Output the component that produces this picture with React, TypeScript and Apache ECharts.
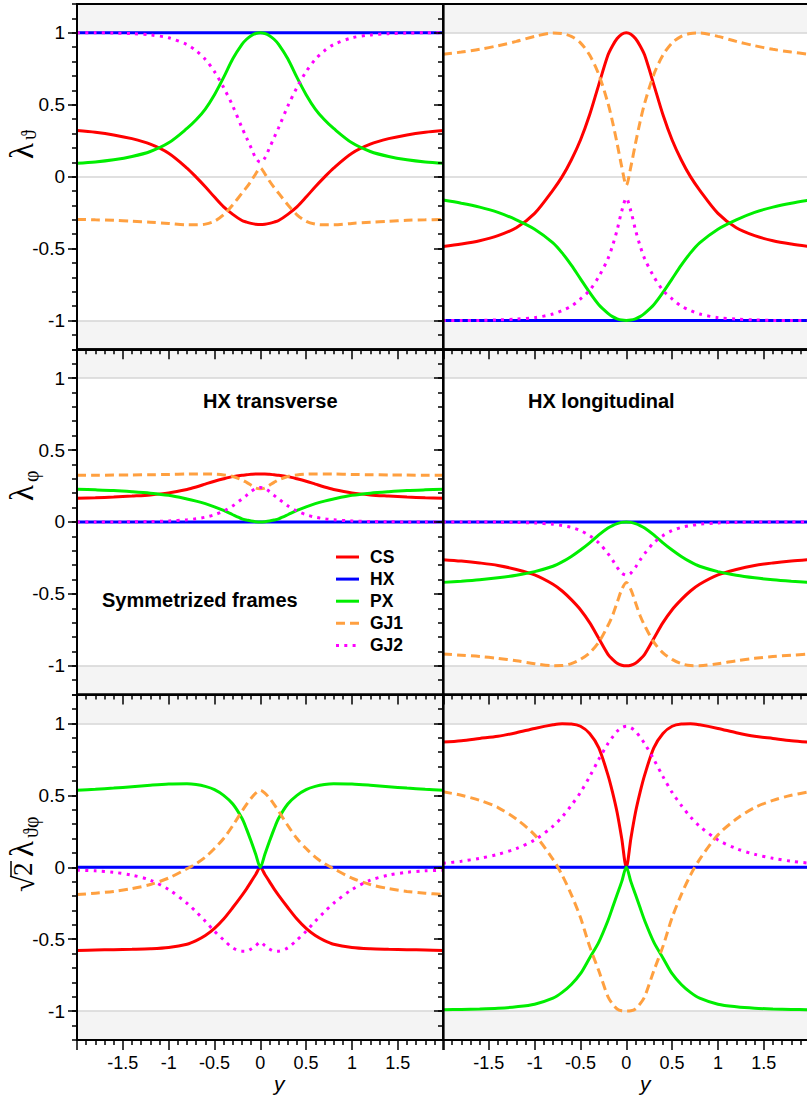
import React, { useEffect, useRef } from "react";
import * as echarts from "echarts";

// Rapidity grid for y >= 0; every curve is symmetric in y and is mirrored to y < 0.
const Y_GRID = [0, 0.05, 0.1, 0.15, 0.2, 0.3, 0.4, 0.5, 0.6, 0.7, 0.8, 1.0, 1.2, 1.4, 1.6, 1.8, 2.0];

const X_TICKS = [-1.5, -1, -0.5, 0, 0.5, 1, 1.5];
const Y_TICKS = [-1, -0.5, 0, 0.5, 1];
const FRAMES = ["CS", "HX", "PX", "GJ1", "GJ2"];

// lambda_theta, HX transverse
const thetaTransCS = [-0.333, -0.331, -0.325, -0.316, -0.305, -0.262, -0.21, -0.142, -0.07, -0.003, 0.06, 0.163, 0.226, 0.264, 0.29, 0.308, 0.32];
const thetaTransHX = [1, 1, 1, 1, 1, 1, 1, 1, 1, 1, 1, 1, 1, 1, 1, 1, 1];
const thetaTransPX = [1.0, 0.995, 0.98, 0.955, 0.92, 0.82, 0.69, 0.57, 0.47, 0.395, 0.335, 0.235, 0.175, 0.14, 0.117, 0.102, 0.093];
const thetaTransGJ1 = [0.06, 0.02, -0.03, -0.075, -0.115, -0.195, -0.265, -0.31, -0.33, -0.335, -0.335, -0.325, -0.317, -0.31, -0.303, -0.3, -0.297];
const thetaTransGJ2 = [0.1, 0.13, 0.2, 0.27, 0.34, 0.49, 0.62, 0.73, 0.815, 0.875, 0.918, 0.965, 0.985, 0.994, 0.998, 1.0, 1.0];

// lambda_theta, HX longitudinal
const thetaLongCS = [1.0, 0.99, 0.96, 0.91, 0.845, 0.64, 0.43, 0.255, 0.116, 0.0, -0.093, -0.255, -0.355, -0.41, -0.445, -0.468, -0.486];
const thetaLongHX = [-1, -1, -1, -1, -1, -1, -1, -1, -1, -1, -1, -1, -1, -1, -1, -1, -1];
const thetaLongPX = [-1.0, -0.997, -0.988, -0.973, -0.95, -0.89, -0.805, -0.71, -0.615, -0.53, -0.46, -0.365, -0.3, -0.248, -0.212, -0.185, -0.163];
const thetaLongGJ1 = [-0.06, 0.07, 0.23, 0.38, 0.51, 0.71, 0.845, 0.93, 0.975, 0.995, 0.998, 0.975, 0.94, 0.91, 0.885, 0.866, 0.85];
const thetaLongGJ2 = [-0.15, -0.24, -0.37, -0.48, -0.57, -0.695, -0.79, -0.85, -0.9, -0.93, -0.955, -0.98, -0.99, -0.996, -0.999, -1.0, -1.0];

// lambda_phi, HX transverse
const phiTransCS = [0.333, 0.333, 0.331, 0.328, 0.325, 0.315, 0.3, 0.283, 0.263, 0.243, 0.226, 0.202, 0.188, 0.18, 0.173, 0.168, 0.165];
const phiTransHX = [0, 0, 0, 0, 0, 0, 0, 0, 0, 0, 0, 0, 0, 0, 0, 0, 0];
const phiTransPX = [0, 0.002, 0.006, 0.013, 0.022, 0.05, 0.08, 0.105, 0.127, 0.145, 0.16, 0.185, 0.2, 0.21, 0.218, 0.223, 0.227];
const phiTransGJ1 = [0.23, 0.235, 0.255, 0.275, 0.293, 0.316, 0.327, 0.332, 0.334, 0.334, 0.333, 0.33, 0.328, 0.327, 0.326, 0.325, 0.325];
const phiTransGJ2 = [0.24, 0.232, 0.212, 0.185, 0.16, 0.112, 0.076, 0.05, 0.033, 0.022, 0.015, 0.007, 0.003, 0.001, 0, 0, 0];

// lambda_phi, HX longitudinal
const phiLongCS = [-1.0, -0.996, -0.982, -0.955, -0.92, -0.81, -0.7, -0.61, -0.54, -0.48, -0.433, -0.368, -0.33, -0.302, -0.285, -0.272, -0.262];
const phiLongHX = [0, 0, 0, 0, 0, 0, 0, 0, 0, 0, 0, 0, 0, 0, 0, 0, 0];
const phiLongPX = [0, -0.003, -0.012, -0.025, -0.042, -0.09, -0.145, -0.195, -0.24, -0.278, -0.308, -0.345, -0.37, -0.388, -0.402, -0.412, -0.42];
const phiLongGJ1 = [-0.42, -0.47, -0.56, -0.65, -0.72, -0.835, -0.91, -0.955, -0.985, -0.998, -0.999, -0.985, -0.965, -0.948, -0.935, -0.926, -0.918];
const phiLongGJ2 = [-0.37, -0.355, -0.315, -0.265, -0.22, -0.145, -0.095, -0.06, -0.038, -0.025, -0.016, -0.007, -0.003, -0.001, 0, 0, 0];

// sqrt(2) lambda_theta_phi, HX transverse
const tpTransCS = [0, -0.05, -0.1, -0.15, -0.195, -0.28, -0.36, -0.425, -0.475, -0.51, -0.535, -0.557, -0.566, -0.57, -0.573, -0.575, -0.578];
const tpTransHX = [0, 0, 0, 0, 0, 0, 0, 0, 0, 0, 0, 0, 0, 0, 0, 0, 0];
const tpTransPX = [0, 0.09, 0.18, 0.265, 0.34, 0.44, 0.5, 0.54, 0.562, 0.575, 0.58, 0.578, 0.57, 0.56, 0.55, 0.542, 0.535];
const tpTransGJ1 = [0.535, 0.515, 0.48, 0.437, 0.39, 0.29, 0.2, 0.13, 0.07, 0.025, -0.01, -0.075, -0.12, -0.148, -0.168, -0.18, -0.19];
const tpTransGJ2 = [-0.52, -0.545, -0.568, -0.583, -0.583, -0.56, -0.505, -0.445, -0.375, -0.31, -0.25, -0.155, -0.09, -0.055, -0.035, -0.025, -0.02];

// sqrt(2) lambda_theta_phi, HX longitudinal
const tpLongCS = [0, 0.2, 0.38, 0.52, 0.64, 0.83, 0.93, 0.98, 0.996, 0.998, 0.99, 0.965, 0.935, 0.91, 0.895, 0.88, 0.87];
const tpLongHX = [0, 0, 0, 0, 0, 0, 0, 0, 0, 0, 0, 0, 0, 0, 0, 0, 0];
const tpLongPX = [0, -0.1, -0.19, -0.28, -0.37, -0.52, -0.63, -0.74, -0.815, -0.87, -0.91, -0.952, -0.97, -0.98, -0.985, -0.988, -0.99];
const tpLongGJ1 = [-1.0, -0.998, -0.985, -0.95, -0.9, -0.72, -0.55, -0.35, -0.19, -0.055, 0.055, 0.225, 0.335, 0.415, 0.465, 0.5, 0.525];
const tpLongGJ2 = [0.98, 0.97, 0.945, 0.905, 0.86, 0.75, 0.63, 0.52, 0.43, 0.35, 0.285, 0.19, 0.13, 0.09, 0.062, 0.042, 0.028];

const PANELS = [
  { row: 0, col: 0, curves: [thetaTransCS, thetaTransHX, thetaTransPX, thetaTransGJ1, thetaTransGJ2] },
  { row: 0, col: 1, curves: [thetaLongCS, thetaLongHX, thetaLongPX, thetaLongGJ1, thetaLongGJ2] },
  { row: 1, col: 0, curves: [phiTransCS, phiTransHX, phiTransPX, phiTransGJ1, phiTransGJ2] },
  { row: 1, col: 1, curves: [phiLongCS, phiLongHX, phiLongPX, phiLongGJ1, phiLongGJ2] },
  { row: 2, col: 0, curves: [tpTransCS, tpTransHX, tpTransPX, tpTransGJ1, tpTransGJ2] },
  { row: 2, col: 1, curves: [tpLongCS, tpLongHX, tpLongPX, tpLongGJ1, tpLongGJ2] },
];

const FRAME_STYLE: Record<string, { color: string; dash: number[] | null }> = {
  CS: { color: "#ff0000", dash: null },
  HX: { color: "#0000ff", dash: null },
  PX: { color: "#00ee00", dash: null },
  GJ1: { color: "#ffa040", dash: [9, 5] },
  GJ2: { color: "#ff00ff", dash: [3, 5.3] },
};

const ROW_TOP = [4, 349.3, 694.6];
const ROW_HEIGHT = 345.3;
const COL_LEFT = [77, 443];
const COL_WIDTH = 366.6;

// legend block position
const LEGEND_X = 336;
const LEGEND_Y = 557;
const LEGEND_STEP = 22.1;

const SANS = "Liberation Sans, Arial, Helvetica, sans-serif";
const SERIF = "Liberation Serif, DejaVu Serif, Times New Roman, serif";

function mirror(vals: number[]): number[][] {
  const pts: number[][] = [];
  for (let i = Y_GRID.length - 1; i > 0; i--) pts.push([-Y_GRID[i], vals[i]]);
  for (let i = 0; i < Y_GRID.length; i++) pts.push([Y_GRID[i], vals[i]]);
  return pts;
}

function near(list: number[], v: number) {
  return list.find((t) => Math.abs(t - v) < 1e-6);
}

function buildOption() {
  const grid: any[] = [];
  const xAxis: any[] = [];
  const yAxis: any[] = [];
  const series: any[] = [];

  const tickStyle = { color: "#000", width: 1.5 };
  const AXIS_Z = 40;

  PANELS.forEach((p, i) => {
    grid.push({
      left: COL_LEFT[p.col],
      top: ROW_TOP[p.row],
      width: COL_WIDTH,
      height: ROW_HEIGHT,
      show: true,
      z: AXIS_Z,
      borderColor: "#000",
      borderWidth: 2,
      backgroundColor: "transparent",
      outerBoundsMode: "none",
    });

    const bottomRow = p.row === 2;
    xAxis.push({
      gridIndex: i,
      type: "value",
      z: AXIS_Z,
      min: -2,
      max: 2,
      interval: 0.5,
      axisLine: { show: true, onZero: false, lineStyle: { color: "#000", width: 2 } },
      axisTick: { show: true, length: 10, lineStyle: tickStyle },
      minorTick: { show: true, splitNumber: 5, length: 5, lineStyle: tickStyle },
      splitLine: { show: false },
      minorSplitLine: { show: false },
      axisLabel: {
        show: bottomRow,
        formatter: (v: number) => {
          const t = near(X_TICKS, v);
          return t === undefined ? "" : String(t);
        },
        fontSize: 18,
        color: "#000",
        fontFamily: SANS,
        margin: 14,
      },
      name: bottomRow ? "y" : "",
      nameLocation: "middle",
      nameGap: 31,
      nameTextStyle: {
        fontStyle: "italic",
        fontSize: 21,
        color: "#000",
        fontFamily: SANS,
        padding: [0, 0, 0, 38],
      },
    });

    // axis carrying labels and the 0.1 minor ticks
    yAxis.push({
      gridIndex: i,
      type: "value",
      position: "left",
      z: AXIS_Z,
      min: -1.2,
      max: 1.2,
      interval: 0.1,
      axisLine: { show: true, onZero: false, lineStyle: { color: "#000", width: 2 } },
      axisTick: { show: true, length: 5, lineStyle: tickStyle },
      splitLine: { show: false },
      axisLabel: {
        show: p.col === 0,
        formatter: (v: number) => {
          const t = near(Y_TICKS, v);
          return t === undefined ? "" : String(t);
        },
        fontSize: 19,
        color: "#000",
        fontFamily: SANS,
        margin: 12,
      },
    });
    // companion axis for the longer major ticks, moved onto the left edge
    yAxis.push({
      gridIndex: i,
      type: "value",
      position: "right",
      offset: -COL_WIDTH,
      z: AXIS_Z,
      min: -1.2,
      max: 1.2,
      axisLine: { show: false, onZero: false },
      axisLabel: { show: false, customValues: Y_TICKS },
      splitLine: { show: false },
      axisTick: { show: true, inside: true, length: 9, customValues: Y_TICKS, lineStyle: tickStyle },
    });

    const yIdx = 2 * i;
    // background bands beyond |value| = 1 and reference lines
    series.push({
      name: "bg",
      type: "line",
      xAxisIndex: i,
      yAxisIndex: yIdx,
      data: [[-2, 0], [2, 0]],
      showSymbol: false,
      symbol: "none",
      silent: true,
      lineStyle: { opacity: 0 },
      z: 1,
      markArea: {
        silent: true,
        z: 1,
        itemStyle: { color: "#f4f4f4" },
        data: [
          [{ yAxis: 1 }, { yAxis: 1.2 }],
          [{ yAxis: -1.2 }, { yAxis: -1 }],
        ],
      },
      markLine: {
        silent: true,
        z: 2,
        symbol: ["none", "none"],
        label: { show: false },
        lineStyle: { color: "#d6d6d6", width: 1.5, type: "solid" },
        data: [{ yAxis: 1 }, { yAxis: 0 }, { yAxis: -1 }],
      },
    });

    FRAMES.forEach((f, k) => {
      const st = FRAME_STYLE[f];
      series.push({
        name: f,
        type: "line",
        xAxisIndex: i,
        yAxisIndex: yIdx,
        data: mirror(p.curves[k]),
        smooth: 0.3,
        showSymbol: false,
        symbol: "none",
        z: 10 + k,
        lineStyle: { width: 3, color: st.color, type: st.dash ?? "solid" },
        itemStyle: { color: st.color },
      });
    });
  });

  const txt = (x: number, y: number, text: string, size: number, extra: any = {}) => ({
    type: "text",
    x,
    y,
    style: {
      text,
      fontSize: size,
      fontFamily: SERIF,
      fill: "#000",
      align: "left",
      verticalAlign: "bottom",
      ...extra,
    },
  });

  const label = (x: number, y: number, text: string) => ({
    type: "text",
    x,
    y,
    style: { text, fontSize: 20, fontWeight: "bold", fontFamily: SANS, fill: "#000", verticalAlign: "middle" },
  });

  // legend drawn as line samples with labels
  const legendItems: any[] = [];
  FRAMES.forEach((f, k) => {
    const st = FRAME_STYLE[f];
    const yy = LEGEND_Y + k * LEGEND_STEP;
    legendItems.push({
      type: "line",
      shape: { x1: LEGEND_X, y1: yy, x2: LEGEND_X + 23, y2: yy },
      style: { stroke: st.color, lineWidth: 3, lineDash: st.dash ?? undefined },
    });
    legendItems.push({
      type: "text",
      x: LEGEND_X + 34,
      y: yy,
      style: { text: f, fontSize: 17.5, fontWeight: "bold", fontFamily: SANS, fill: "#000", verticalAlign: "middle" },
    });
  });

  const graphic: any[] = [
    label(203, 401, "HX transverse"),
    label(528, 401, "HX longitudinal"),
    label(102, 600, "Symmetrized frames"),
    ...legendItems,
    // axis titles, reading bottom to top
    {
      type: "group",
      x: 38,
      y: 159,
      rotation: Math.PI / 2,
      children: [txt(0, 0, "λ", 33), txt(19, 1, "ϑ", 20)],
    },
    {
      type: "group",
      x: 38,
      y: 501,
      rotation: Math.PI / 2,
      children: [txt(0, 0, "λ", 33), txt(19, 3, "φ", 20)],
    },
    {
      type: "group",
      x: 38,
      y: 892,
      rotation: Math.PI / 2,
      children: [
        txt(0, 0, "√", 30),
        txt(16, -2, "2", 27),
        { type: "line", shape: { x1: 15, y1: -27, x2: 31, y2: -27 }, style: { stroke: "#000", lineWidth: 1.5 } },
        txt(35, 0, "λ", 33),
        txt(54, 3, "ϑφ", 20),
      ],
    },
  ];

  return {
    animation: false,
    backgroundColor: "#fff",
    grid,
    xAxis,
    yAxis,
    series,
    graphic,
  };
}

export default function App() {
  const ref = useRef<HTMLDivElement>(null);
  useEffect(() => {
    if (!ref.current) return;
    const chart = echarts.init(ref.current, undefined, { renderer: "svg" });
    chart.setOption(buildOption() as any);
    return () => chart.dispose();
  }, []);
  return (
    <div
      ref={ref}
      style={{ position: "absolute", left: 0, top: 0, width: 807, height: 1099, background: "#fff" }}
    />
  );
}
